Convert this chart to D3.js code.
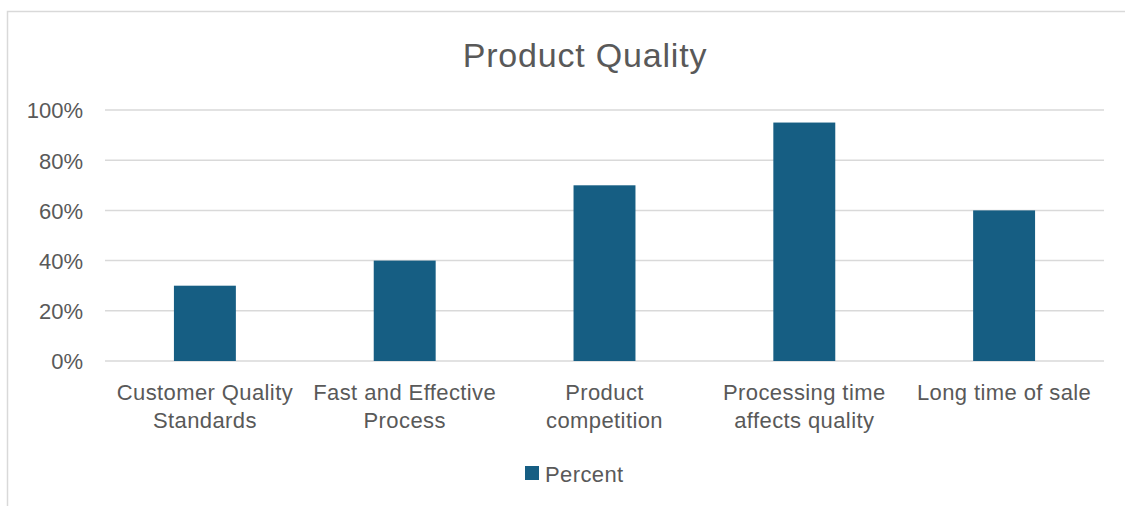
<!DOCTYPE html>
<html>
<head>
<meta charset="utf-8">
<script src="https://cdn.jsdelivr.net/npm/d3@7"></script>
<style>
	body { margin: 0; background: #fff; }
	text { font-family: "Liberation Sans", Arial, sans-serif; fill: #595959; }
</style>
</head>
<body>
<svg id="chart" width="1125" height="506"></svg>
<script>

var categories = [
	['Customer Quality', 'Standards'],
	['Fast and Effective', 'Process'],
	['Product', 'competition'],
	['Processing time', 'affects quality'],
	['Long time of sale']
];
var percent = [0.30, 0.40, 0.70, 0.95, 0.60];
var yTicks = [0, 0.2, 0.4, 0.6, 0.8, 1.0];
var seriesName = 'Percent';

var svg = d3.select('#chart');

// chart border
svg.append('rect')
	.attr('x', 7.5)
	.attr('y', 11.5)
	.attr('width', 1130)
	.attr('height', 520)
	.attr('fill', 'none')
	.attr('stroke', '#d9d9d9')
	.attr('stroke-width', 1.5);

var plotL = 105, plotR = 1104, plotT = 110, plotB = 361;

var x = d3.scaleBand()
	.domain(d3.range(categories.length))
	.range([plotL, plotR]);

var y = d3.scaleLinear()
	.domain([0, 1])
	.range([plotB, plotT]);

svg.append('text')
	.attr('x', 585)
	.attr('y', 67)
	.attr('text-anchor', 'middle')
	.style('font-size', '34px')
	.style('letter-spacing', '0.8px')
	.text('Product Quality');

// gridlines
svg.selectAll('line.grid')
	.data(yTicks)
	.enter()
	.append('line')
	.attr('class', 'grid')
	.attr('x1', plotL)
	.attr('x2', plotR)
	.attr('y1', function (d) { return y(d); })
	.attr('y2', function (d) { return y(d); })
	.attr('stroke', '#d9d9d9')
	.attr('stroke-width', 1.5);

var yAxis = svg.append('g')
	.attr('transform', 'translate(' + (plotL - 22) + ',0)')
	.call(d3.axisLeft(y).tickValues(yTicks).tickFormat(d3.format('.0%')).tickSize(0).tickPadding(0));
yAxis.select('.domain').remove();
yAxis.selectAll('text')
	.style('font-size', '22px')
	.attr('dy', '0.36em')
	.attr('fill', '#595959');

var barW = x.bandwidth() * 0.31;

svg.selectAll('rect.bar')
	.data(percent)
	.enter()
	.append('rect')
	.attr('class', 'bar')
	.attr('x', function (d, i) { return x(i) + x.bandwidth() / 2 - barW / 2; })
	.attr('y', function (d) { return y(d); })
	.attr('width', barW)
	.attr('height', function (d) { return y(0) - y(d); })
	.attr('fill', '#165e83');

var labels = svg.selectAll('text.cat')
	.data(categories)
	.enter()
	.append('text')
	.attr('class', 'cat')
	.attr('text-anchor', 'middle')
	.style('font-size', '22px')
	.style('letter-spacing', '0.4px');

labels.selectAll('tspan')
	.data(function (d, i) { return d.map(function (s) { return { s: s, i: i }; }); })
	.enter()
	.append('tspan')
	.attr('x', function (d) { return x(d.i) + x.bandwidth() / 2; })
	.attr('y', function (d, j) { return 400 + j * 28; })
	.text(function (d) { return d.s; });

// legend
svg.append('rect')
	.attr('x', 525)
	.attr('y', 466)
	.attr('width', 14)
	.attr('height', 14)
	.attr('fill', '#165e83');

svg.append('text')
	.attr('x', 545)
	.attr('y', 482)
	.style('font-size', '22px')
	.style('letter-spacing', '0.4px')
	.text(seriesName);

</script>
</body>
</html>
